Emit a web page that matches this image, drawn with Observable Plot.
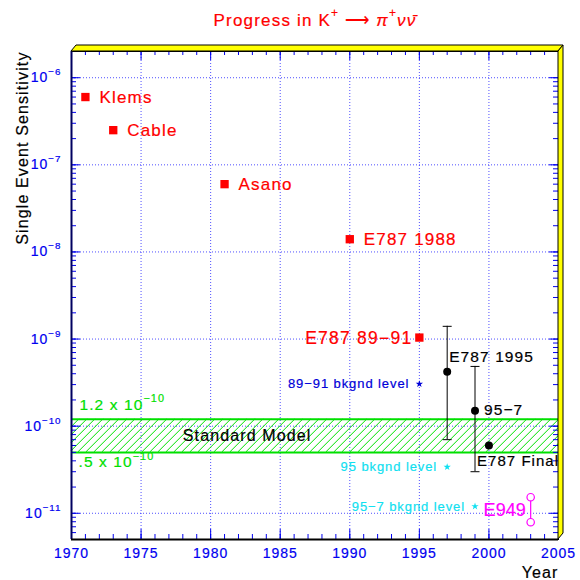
<!DOCTYPE html>
<html>
<head>
<meta charset="utf-8">
<script src="https://cdn.jsdelivr.net/npm/d3@7"></script>
<script src="https://cdn.jsdelivr.net/npm/@observablehq/plot@0.6"></script>
<style>
  body { margin: 0; background: #ffffff; }
  #chart svg { display: block; }
</style>
</head>
<body>
<div id="chart"></div>
<script>
// ---------------- data ----------------
const expNames = ["Klems", "Cable", "Asano", "E787 1988", "E787 89−91"];
const expYears = [1971, 1973, 1981, 1990, 1995];
const expSES = [6.0e-7, 2.5e-7, 6.0e-8, 1.4e-8, 1.04e-9];
const expLabelSide = ["right", "right", "right", "right", "left"];

const resNames = ["E787 1995", "95−7", "E787 Final"];
const resYears = [1997, 1999, 2000];
const resSES = [4.2e-10, 1.5e-10, 6.0e-11];
const resLow = [7.0e-11, 3.0e-11, null];
const resHigh = [1.4e-9, 4.85e-10, null];

const bkgNames = ["89−91 bkgnd level", "95 bkgnd level", "95−7 bkgnd level"];
const bkgYears = [1995, 1997, 1999];
const bkgLevels = [3.05e-10, 3.4e-11, 1.2e-11];
const bkgColors = ["#0000d8", "#10e0f0", "#10e0f0"];

const e949Name = "E949";
const e949Year = 2003;
const e949Values = [1.53e-11, 7.9e-12];

const smLow = 0.5e-10;
const smHigh = 1.2e-10;
const smLabel = "Standard Model";
const smHighLabel = "1.2 x 10^{−10}";
const smLowLabel = ".5 x 10^{−10}";

const xTickYears = [1970, 1975, 1980, 1985, 1990, 1995, 2000, 2005];
const yTicks = [1e-11, 1e-10, 1e-9, 1e-8, 1e-7, 1e-6];
const yTickLabels = ["10^{−11}", "10^{−10}", "10^{−9}", "10^{−8}", "10^{−7}", "10^{−6}"];

const titleText = "Progress in K^{+} ⟶ ~{π}^{+}~{νν̄}";
const yTitle = "Single Event Sensitivity";
const xTitle = "Year";

// ---------------- tables ----------------
const expTable = expNames.map((name, i) => ({name, year: expYears[i], ses: expSES[i], side: expLabelSide[i]}));
const resTable = resNames.map((name, i) => ({name, year: resYears[i], ses: resSES[i], lo: resLow[i], hi: resHigh[i]}));
const errTable = resTable.filter(d => d.lo != null);
const capTable = errTable.flatMap(d => [{year: d.year, v: d.lo}, {year: d.year, v: d.hi}]);
const bkgTable = bkgNames.map((name, i) => ({name, year: bkgYears[i], level: bkgLevels[i], color: bkgColors[i]}));
const e949Table = e949Values.map(v => ({year: e949Year, v}));
const e949Span = [{year: e949Year, lo: d3.min(e949Values), hi: d3.max(e949Values),
  mid: Math.sqrt(e949Values[0] * e949Values[1])}];

// ---------------- layout ----------------
const W = 580, H = 580;
const mL = 71, mR = 22, mT = 51, mB = 41;
const frameW = W - mL - mR, frameH = H - mT - mB;
const xDomain = [1970, 2005];
const yDomain = [5e-12, 2e-6];

const axisBlue = "#0000f0";
const gridBlue = "#3030ff";
const smGreen = "#00e000";

const yearTicks = d3.range(xDomain[0], xDomain[1] + 1);
const yMinor = d3.scaleLog().domain(yDomain).ticks();

const capSymbol = {
  draw(context, size) {
    const r = Math.sqrt(size / Math.PI);
    context.moveTo(-r, 0);
    context.lineTo(r, 0);
  }
};

const chart = Plot.plot({
  width: W, height: H,
  marginLeft: mL, marginRight: mR, marginTop: mT, marginBottom: mB,
  x: {domain: xDomain, axis: null},
  y: {type: "log", domain: yDomain, axis: null},
  color: {type: "identity"},
  style: {background: "#ffffff", fontFamily: "'Liberation Sans', Arial, Helvetica, sans-serif", overflow: "visible"},
  marks: [
    // grid
    Plot.ruleX(xTickYears.slice(1, -1), {x: d => d, stroke: gridBlue, strokeDasharray: "1,2", strokeOpacity: 0.85}),
    Plot.ruleY(yTicks, {y: d => d, stroke: gridBlue, strokeDasharray: "1,2", strokeOpacity: 0.85}),
    // standard model band borders (hatching added below)
    Plot.ruleY([smLow, smHigh], {y: d => d, stroke: smGreen, strokeWidth: 2}),
    // ticks: bottom & top
    Plot.ruleX(yearTicks, {x: d => d, stroke: axisBlue, insetTop: frameH - 5}),
    Plot.ruleX(xTickYears, {x: d => d, stroke: axisBlue, insetTop: frameH - 10}),
    Plot.ruleX(yearTicks, {x: d => d, stroke: axisBlue, insetBottom: frameH - 4}),
    Plot.ruleX(xTickYears, {x: d => d, stroke: axisBlue, insetBottom: frameH - 9}),
    // ticks: left & right
    Plot.ruleY(yMinor, {y: d => d, stroke: axisBlue, insetRight: frameW - 5}),
    Plot.ruleY(yTicks, {y: d => d, stroke: axisBlue, insetRight: frameW - 9}),
    Plot.ruleY(yMinor, {y: d => d, stroke: axisBlue, insetLeft: frameW - 5}),
    Plot.ruleY(yTicks, {y: d => d, stroke: axisBlue, insetLeft: frameW - 9}),
    // frame
    Plot.frame({stroke: "black", strokeWidth: 1}),
    Plot.ruleX([xDomain[0]], {x: d => d, stroke: "#000060", strokeWidth: 2}),
    Plot.ruleY([yDomain[0]], {y: d => d, stroke: "black", strokeWidth: 2}),
    // tick labels
    Plot.text(xTickYears, {x: d => d, frameAnchor: "bottom", lineAnchor: "top", dy: 9,
      text: d => String(d), fill: axisBlue, fontSize: 14}),
    Plot.text(yTicks, {y: d => d, frameAnchor: "left", textAnchor: "end", dx: -10,
      text: (d, i) => yTickLabels[i], fill: axisBlue, fontSize: 14}),
    // axis titles
    Plot.text([yTitle], {frameAnchor: "top-left", rotate: -90, textAnchor: "end", lineAnchor: "bottom",
      dx: -44, fill: "black", fontSize: 16}),
    Plot.text([xTitle], {frameAnchor: "bottom-right", textAnchor: "end", lineAnchor: "bottom",
      dy: 38, fill: "black", fontSize: 16}),
    Plot.text([titleText], {frameAnchor: "top", lineAnchor: "bottom", dy: -26, fill: "#ff0000", fontSize: 17}),
    // standard model labels
    Plot.text([smHighLabel], {frameAnchor: "left", y: [smHigh], textAnchor: "start", dx: 8, dy: -14,
      fill: smGreen, fontSize: 15.5}),
    Plot.text([smLowLabel], {frameAnchor: "left", y: [smLow], textAnchor: "start", dx: 7, dy: 10,
      fill: smGreen, fontSize: 15.5}),
    Plot.text([{year: 1978, v: Math.sqrt(smLow * smHigh)}], {x: "year", y: "v", text: () => smLabel,
      textAnchor: "start", fill: "black", fontSize: 16}),
    // older experiments
    Plot.dot(expTable, {x: "year", y: "ses", symbol: "square", r: 4.7, fill: "#ff0000", stroke: "none"}),
    Plot.text(expTable.filter(d => d.side === "right"), {x: "year", y: "ses", text: "name",
      textAnchor: "start", dx: 14, fill: "#ff0000", fontSize: 17}),
    Plot.text(expTable.filter(d => d.side === "left"), {x: "year", y: "ses", text: "name",
      textAnchor: "end", dx: -7, dy: 1, fill: "#ff0000", fontSize: 17.5}),
    // background levels
    Plot.dot(bkgTable, {x: "year", y: "level", symbol: "star", r: 2.3, fill: "color", stroke: "none"}),
    Plot.text(bkgTable, {x: "year", y: "level", text: "name", textAnchor: "end", dx: -10,
      fill: "color", fontSize: 13}),
    // E787 results with error bars
    Plot.ruleX(errTable, {x: "year", y1: "lo", y2: "hi", stroke: "black", strokeWidth: 1}),
    Plot.dot(capTable, {x: "year", y: "v", symbol: capSymbol, r: 4.5, stroke: "black", fill: "none", strokeWidth: 1}),
    Plot.dot(resTable, {x: "year", y: "ses", r: 4, fill: "black", stroke: "none"}),
    Plot.text(resTable.filter((d, i) => i === 0), {x: "year", y: "ses", text: "name",
      textAnchor: "start", dx: 2, dy: -15, fill: "black", fontSize: 15.5}),
    Plot.text(resTable.filter((d, i) => i === 1), {x: "year", y: "ses", text: "name",
      textAnchor: "start", dx: 9, dy: -1, fill: "black", fontSize: 15.5}),
    Plot.text(resTable.filter((d, i) => i === 2), {x: "year", y: "ses", text: "name",
      textAnchor: "start", dx: -12, dy: 16, fill: "black", fontSize: 15}),
    // E949
    Plot.ruleX(e949Span, {x: "year", y1: "lo", y2: "hi", stroke: "#ff00ff", strokeWidth: 1.2}),
    Plot.dot(e949Table, {x: "year", y: "v", r: 3.7, stroke: "#ff00ff", fill: "white", strokeWidth: 1.2}),
    Plot.text(e949Span, {x: "year", y: "mid", text: () => e949Name, textAnchor: "end", dx: -5, dy: 1,
      fill: "#ff00ff", fontSize: 18})
  ]
});

document.getElementById("chart").appendChild(chart);

// ---------------- post-processing ----------------
const svg = d3.select(chart);
const sx = chart.scale("x"), sy = chart.scale("y");
const L = sx.range[0], R = sx.range[1], B = sy.range[0], T = sy.range[1];

// green 45° hatching inside the Standard Model band (clipped analytically)
{
  const yTop = sy.apply(smHigh), yBot = sy.apply(smLow);
  const h = yBot - yTop, step = 8;
  const segs = [];
  for (let x0 = L - h; x0 < R; x0 += step) {
    let xa = x0, ya = yBot, xb = x0 + h, yb = yTop;
    if (xa < L) { ya = yBot - (L - xa); xa = L; }
    if (xb > R) { yb = yTop + (xb - R); xb = R; }
    if (xb > xa) segs.push([xa, ya, xb, yb]);
  }
  const g = svg.insert("g", "g").attr("stroke", smGreen).attr("stroke-width", 1);
  g.selectAll("line").data(segs).join("line")
    .attr("x1", d => d[0]).attr("y1", d => d[1]).attr("x2", d => d[2]).attr("y2", d => d[3]);
  // keep it above the grid lines: move after the first two grid groups
  const groups = chart.querySelectorAll(":scope > g[aria-label='rule']");
  if (groups.length > 2) groups[1].after(g.node());
}

// rich text: ^{...} superscript, ~{...} italic
chart.querySelectorAll("text").forEach(t => {
  const s = t.textContent;
  const fs = parseFloat(getComputedStyle(t).fontSize) || 12;
  const fillColor = getComputedStyle(t).fill;
  if (/[\^~]\{/.test(s)) {
    const sel = d3.select(t);
    sel.text(null);
    const re = /([\^~])\{([^}]*)\}/g;
    let last = 0, m, raised = false;
    const lift = fs * 0.5;
    while ((m = re.exec(s))) {
      if (m.index > last) {
        sel.append("tspan").attr("dy", raised ? lift : null).text(s.slice(last, m.index));
        raised = false;
      }
      if (m[1] === "^") {
        sel.append("tspan").attr("font-size", fs * 0.7).attr("dy", raised ? null : -lift).text(m[2]);
        raised = true;
      } else {
        sel.append("tspan").attr("font-style", "italic").attr("dy", raised ? lift : null).text(m[2]);
        raised = false;
      }
      last = re.lastIndex;
    }
    if (last < s.length) sel.append("tspan").attr("dy", raised ? lift : null).text(s.slice(last));
  }
  if (s !== e949Name) t.setAttribute("letter-spacing", (fs * 0.07).toFixed(2));
  t.style.stroke = fillColor;
  t.style.strokeWidth = "0.2px";
});

// yellow 3D frame edges on top and right
const ox = 5, oy = 6;
const deco = svg.append("g").attr("fill", "#ffff00").attr("stroke", "black").attr("stroke-width", 1);
deco.append("polygon").attr("points", [[L, T], [L + ox, T - oy], [R + ox, T - oy], [R, T]].map(p => p.join(",")).join(" "));
deco.append("polygon").attr("points", [[R, T], [R + ox, T - oy], [R + ox, B - oy], [R, B]].map(p => p.join(",")).join(" "));
</script>
</body>
</html>
